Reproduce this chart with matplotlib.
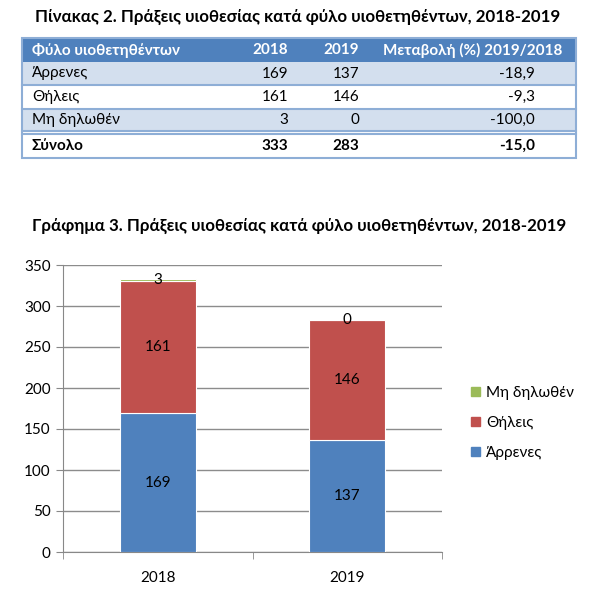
import matplotlib
matplotlib.use("Agg")
import matplotlib.pyplot as plt
from matplotlib.patches import Rectangle, Patch

plt.rcParams['font.family'] = ['Lato', 'DejaVu Sans']

# table data
table_title = "Πίνακας 2. Πράξεις υιοθεσίας κατά φύλο υιοθετηθέντων, 2018-2019"
header = ["Φύλο υιοθετηθέντων", "2018", "2019", "Μεταβολή (%) 2019/2018"]
row_labels = ["Άρρενες", "Θήλεις", "Μη δηλωθέν", "Σύνολο"]
col_2018 = ["169", "161", "3", "333"]
col_2019 = ["137", "146", "0", "283"]
col_change = ["-18,9", "-9,3", "-100,0", "-15,0"]

# chart data
chart_title = "Γράφημα 3. Πράξεις υιοθεσίας κατά φύλο υιοθετηθέντων, 2018-2019"
years = ["2018", "2019"]
series_names = ["Άρρενες", "Θήλεις", "Μη δηλωθέν"]
arrenes = [169, 137]
thileis = [161, 146]
mi_dilothen = [3, 0]

blue = "#4F81BD"
red = "#C0504D"
green = "#9BBB59"
light = "#D3DFEE"
sep = "#8EAED6"

W, H = 612, 602
fig = plt.figure(figsize=(W / 100, H / 100), dpi=100)

# overlay axes in pixel coords for the table
tab = fig.add_axes([0, 0, 1, 1])
tab.set_xlim(0, W)
tab.set_ylim(H, 0)
tab.axis("off")

tab.text(298, 17, table_title, ha="center", va="center",
         fontsize=12.2, fontweight="bold", color="black")

x0, x1 = 22, 576
tab.add_patch(Rectangle((x0, 38), x1 - x0, 24, facecolor=blue, edgecolor="none"))
row_tops = [62, 85, 109, 134]
row_bots = [85, 109, 131, 158]
fills = [light, "white", light, "white"]
for top, bot, fc in zip(row_tops, row_bots, fills):
    tab.add_patch(Rectangle((x0, top), x1 - x0, bot - top, facecolor=fc, edgecolor="none"))
# separators
for y in [85, 109, 131, 134]:
    tab.plot([x0, x1], [y, y], color=sep, lw=1.5)
# outer border
tab.add_patch(Rectangle((x0, 38), x1 - x0, 120, facecolor="none", edgecolor=sep, lw=1.5))

fs = 11
col_x = [32, 288, 359, 535]
ty = 50
tab.text(col_x[0], ty, header[0], ha="left", va="center", color="white",
         fontsize=fs, fontweight="bold")
tab.text(col_x[1], ty, header[1], ha="right", va="center", color="white",
         fontsize=fs, fontweight="bold")
tab.text(col_x[2], ty, header[2], ha="right", va="center", color="white",
         fontsize=fs, fontweight="bold")
tab.text(562, ty, header[3], ha="right", va="center", color="white",
         fontsize=fs, fontweight="bold")
for i, lab in enumerate(row_labels):
    yc = (row_tops[i] + row_bots[i]) / 2
    fw = "bold" if i == 3 else "normal"
    tab.text(col_x[0], yc, lab, ha="left", va="center", fontsize=fs, fontweight=fw)
    tab.text(col_x[1], yc, col_2018[i], ha="right", va="center", fontsize=fs, fontweight=fw)
    tab.text(col_x[2], yc, col_2019[i], ha="right", va="center", fontsize=fs, fontweight=fw)
    tab.text(col_x[3], yc, col_change[i], ha="right", va="center", fontsize=fs, fontweight=fw)

tab.text(299, 226, chart_title, ha="center", va="center",
         fontsize=12.2, fontweight="bold", color="black")

# chart
ax = fig.add_axes([63 / W, 1 - 552 / H, 379 / W, 287 / H])
x = range(len(years))
bw = 0.4
b1 = ax.bar(x, arrenes, bw, color=blue, edgecolor="white", lw=0.8, zorder=3)
b2 = ax.bar(x, thileis, bw, bottom=arrenes, color=red, edgecolor="white", lw=0.8, zorder=3)
bottom3 = [a + b for a, b in zip(arrenes, thileis)]
b3 = ax.bar(x, mi_dilothen, bw, bottom=bottom3, color=green, edgecolor="white", lw=0.8, zorder=3)

for bars, vals, bots in [(b1, arrenes, [0, 0]), (b2, thileis, arrenes), (b3, mi_dilothen, bottom3)]:
    for rect, v, b in zip(bars, vals, bots):
        ax.text(rect.get_x() + rect.get_width() / 2, b + v / 2, str(v),
                ha="center", va="center", fontsize=11, color="black", zorder=4)

ax.set_xlim(-0.5, 1.5)
ax.set_ylim(0, 350)
ax.set_yticks(range(0, 351, 50))
ax.set_xticks(list(x))
ax.set_xticklabels(years)
ax.set_xticks([-0.5, 0.5, 1.5], minor=True)
ax.tick_params(axis="x", which="major", length=0, pad=14, labelsize=11)
ax.tick_params(axis="x", which="minor", length=5, color="#888888")
ax.tick_params(axis="y", length=5, color="#888888", labelsize=11, pad=4)
ax.yaxis.grid(True, color="#8C8C8C", lw=1, zorder=0)
for s in ["top", "right"]:
    ax.spines[s].set_visible(False)
for s in ["left", "bottom"]:
    ax.spines[s].set_color("#888888")

handles = [Patch(color=c, label=n) for c, n in zip([green, red, blue], series_names[::-1])]
fig.legend(handles=handles, loc="upper left", bbox_to_anchor=(465 / W, 1 - 380 / H),
           frameon=False, fontsize=11, handlelength=0.55, handleheight=0.55,
           handletextpad=0.45, labelspacing=1.05, borderaxespad=0)

fig.savefig("out.png", dpi=100)
